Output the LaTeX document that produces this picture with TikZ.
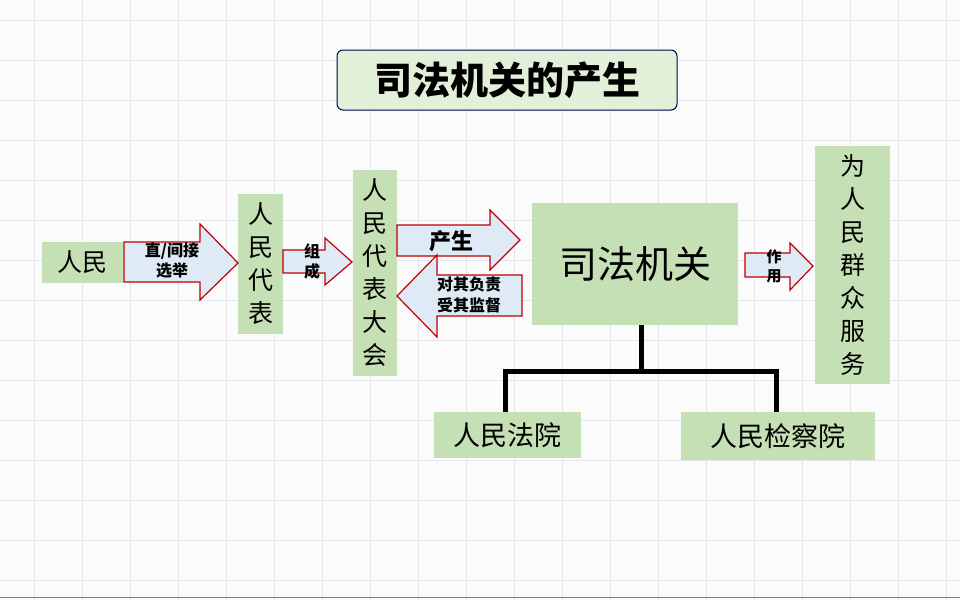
\documentclass[tikz,border=0pt]{standalone}
\usepackage{fontspec}
\setmainfont{Noto Sans CJK SC}
\begin{document}
\begin{tikzpicture}[x=1pt,y=-1pt,
  gbox/.style={fill=boxg,draw=none,inner sep=0,align=center},
  arr/.style={fill=arrb,draw=arrr,line width=1.2pt,line join=miter},
  conn/.style={line width=5pt,draw=black}]
\definecolor{boxg}{HTML}{C5E0B4}
\definecolor{arrb}{HTML}{DEEBF7}
\definecolor{arrr}{HTML}{C00000}
\definecolor{titleg}{HTML}{E2F0D9}
\definecolor{gridc}{HTML}{E4E4EE}
\fill[white!97!gray] (0,0) rectangle (960,600);
\useasboundingbox (0,0) rectangle (960,600);
\foreach \x in {34,82,...,960} \draw[gridc,line width=1pt] (\x,0)--(\x,600);
\foreach \y in {20,60,...,600} \draw[gridc,line width=1pt] (0,\y)--(960,\y);
\draw[gray,line width=1pt] (0,597)--(960,597);
% title
\node[draw=black!70!blue,fill=titleg,rounded corners=6pt,line width=1pt,minimum width=340pt,minimum height=60pt,font=\fontsize{38}{38}\selectfont\bfseries] (title) at (507,80) {司法机关的产生};
% boxes
\node[gbox,minimum width=81pt,minimum height=41pt,font=\fontsize{25}{25}\selectfont] (rm) at (82.5,262.5) {人民};
\node[gbox,minimum width=45pt,minimum height=140pt,font=\fontsize{25}{33}\selectfont] (rmdb) at (260.5,264) {人\\民\\代\\表};
\node[gbox,minimum width=44pt,minimum height=206pt,font=\fontsize{25}{33}\selectfont] (rd) at (375,273) {人\\民\\代\\表\\大\\会};
\node[gbox,minimum width=206pt,minimum height=122pt,font=\fontsize{38}{38}\selectfont] (sf) at (635,264) {司法机关};
\node[gbox,minimum width=75pt,minimum height=238pt,font=\fontsize{25}{33}\selectfont] (wr) at (852.5,265) {为\\人\\民\\群\\众\\服\\务};
\node[gbox,minimum width=147pt,minimum height=46pt,font=\fontsize{27}{27}\selectfont] (fy) at (507.5,435) {人民法院};
\node[gbox,minimum width=194pt,minimum height=48pt,font=\fontsize{27}{27}\selectfont] (jc) at (778,436) {人民检察院};
% arrows
\draw[arr] (124,242)--(200,242)--(200,224)--(238,263)--(200,300)--(200,282)--(124,282)--cycle;
\node[font=\fontsize{16}{20}\selectfont\bfseries,align=center] (a1) at (172,261) {直/间接\\选举};
\draw[arr] (283,250)--(325,250)--(325,238)--(352,262)--(325,285)--(325,273)--(283,273)--cycle;
\node[font=\fontsize{16}{20}\selectfont\bfseries,align=center] (a2) at (312,261) {组\\成};
\draw[arr] (397,225)--(490,225)--(490,210)--(520,240)--(490,270)--(490,256)--(397,256)--cycle;
\node[font=\fontsize{22}{22}\selectfont\bfseries] (a3) at (451,241) {产生};
\draw[arr] (522,275)--(437,275)--(437,255)--(397,296)--(437,337)--(437,316)--(522,316)--cycle;
\node[font=\fontsize{16}{21}\selectfont\bfseries,align=center] (a4) at (469,295) {对其负责\\受其监督};
\draw[arr] (745,253)--(790,253)--(790,243)--(813,266)--(790,290)--(790,277)--(745,277)--cycle;
\node[font=\fontsize{15}{19}\selectfont\bfseries,align=center] (a5) at (774,266) {作\\用};
% connectors
\coordinate (j) at (641,371);
\draw[conn] (sf.south -| j) -- (j);
\draw[conn,line cap=rect] (505,371)--(776,371);
\draw[conn] (505,371)--(fy.north -| 505,0);
\draw[conn] (776,371)--(jc.north -| 776,0);
\end{tikzpicture}
\end{document}
